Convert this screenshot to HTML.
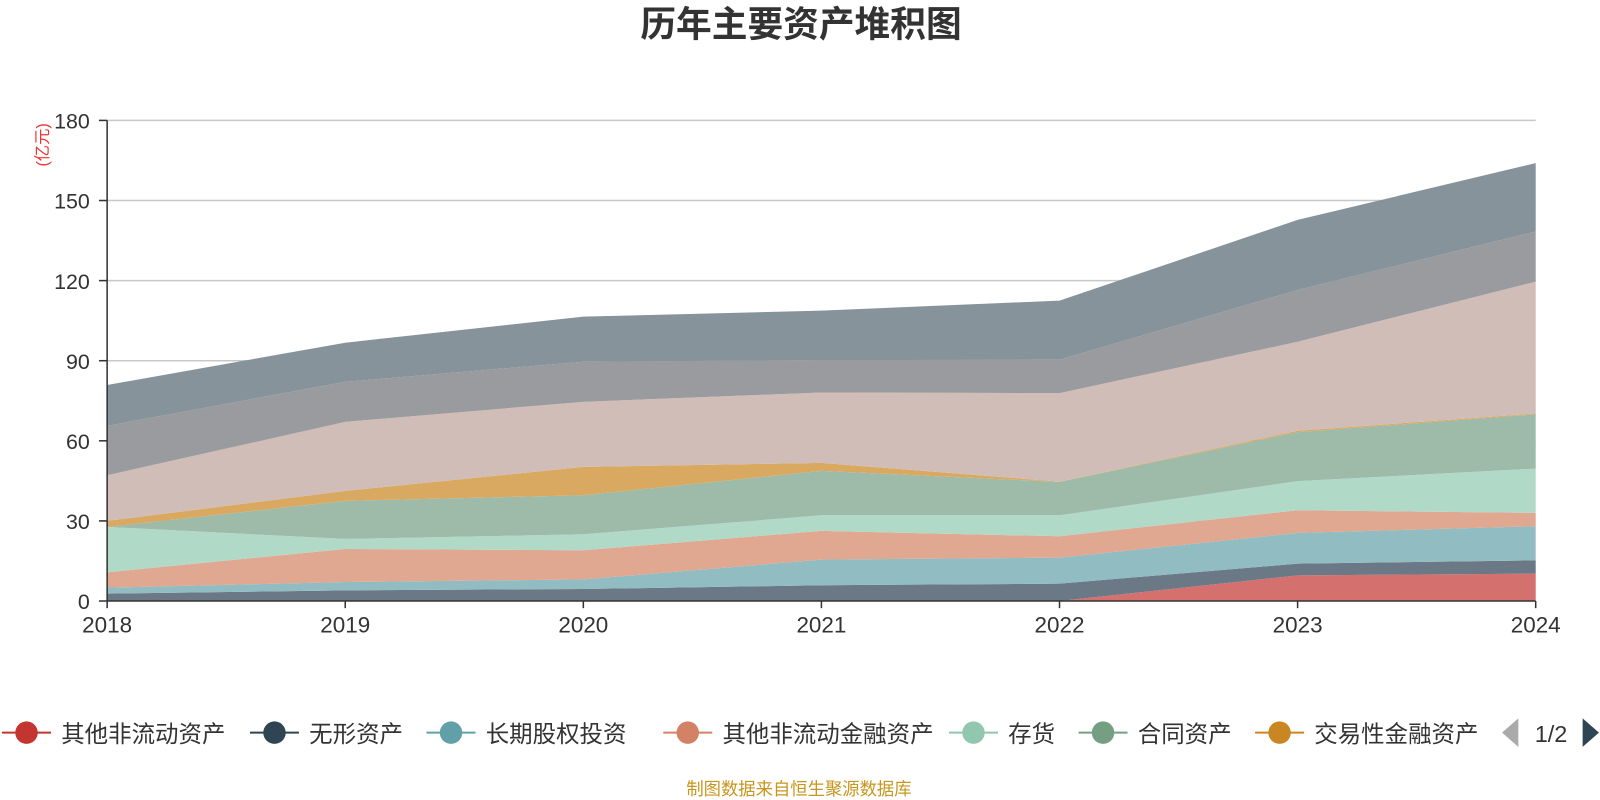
<!DOCTYPE html>
<html><head><meta charset="utf-8"><style>
body{margin:0;background:#fff;}
svg{display:block;font-family:"Liberation Sans","Noto Sans CJK SC",sans-serif;}
</style></head><body>
<svg width="1600" height="800">
<g transform="scale(1.0204)">
<text x="785" y="36" text-anchor="middle" font-size="35" font-weight="bold" fill="#333">历年主要资产堆积图</text>
<text transform="translate(47,142) rotate(-90)" text-anchor="middle" font-size="16" fill="#e33">(亿元)</text>
<g id="grid"></g><g id="areas"></g><g id="axes"></g><g id="legend"></g>
<text x="783" y="779" text-anchor="middle" font-size="17" fill="#c8961e">制图数据来自恒生聚源数据库</text>
</g>
</svg>
<script>
const years=['2018','2019','2020','2021','2022','2023','2024'];
const yTicks=[0,30,60,90,120,150,180];
const seriesNames=['其他非流动资产','无形资产','长期股权投资','其他非流动金融资产','存货','合同资产','交易性金融资产','应收账款','固定资产','货币资金'];
const sOther=[0,0,0,0,0,9.6,10.25];
const sIntangible=[2.75,4,4.5,5.9,6.5,4.4,5.0];
const sEquity=[2.25,3.1,3.6,9.6,9.75,11.5,12.75];
const sOtherFin=[5.75,12.4,10.9,10.75,8,8.5,5];
const sInventory=[17,3.75,6,5.85,7.85,10.9,16.6];
const sContract=[0,14.25,14.6,16.65,12.5,18.35,20.3];
const sTrading=[2.25,3.75,10.65,3,0.1,0.5,0.35];
const sReceivable=[17.1,25.85,24.35,26.35,33.15,33.35,49.35];
const sFixed=[18.5,15,15,12.15,12.5,19.4,18.8];
const sCash=[15.3,14.65,16.9,18.5,22.15,26.25,25.6];
const series=[sOther,sIntangible,sEquity,sOtherFin,sInventory,sContract,sTrading,sReceivable,sFixed,sCash];
const fills=['#d4706d','#6b7986','#91bcc2','#e0a791','#b1d9c7','#9dbba8','#d9a962','#d1bdb7','#9a9b9f','#86939a'];
const legendColors=['#c23531','#2f4554','#61a0a8','#d48265','#91c7ae','#749f83','#ca8622'];
const NS='http://www.w3.org/2000/svg';
const X0=105,X1=1505,Y0=589,Y1=118,YMAX=180;
const xs=i=>X0+(X1-X0)*i/(years.length-1);
const ys=v=>Y0-(Y0-Y1)*v/YMAX;
function mk(t,a,p){const e=document.createElementNS(NS,t);for(const k in a)e.setAttribute(k,a[k]);p.appendChild(e);return e;}
const grid=document.getElementById('grid'),axes=document.getElementById('axes'),areas=document.getElementById('areas'),legend=document.getElementById('legend');
yTicks.forEach(t=>{
 if(t>0){const g=mk('line',{x1:X0,x2:X1,y1:ys(t),y2:ys(t),stroke:'#c8c8c8','stroke-width':1.5},grid);
 
 }
 const tk=mk('line',{x1:X0-8,x2:X0,y1:ys(t),y2:ys(t),stroke:'#333','stroke-width':1.5},axes);
 
 
 const l=mk('text',{x:X0-17,y:ys(t)+8,'text-anchor':'end','font-size':21,fill:'#333'},axes);l.textContent=t;
 
 
});
let base=years.map(()=>0);
series.forEach((s,k)=>{
 const top=base.map((b,i)=>b+s[i]);
 let d='M'+top.map((v,i)=>xs(i)+','+ys(v)).join('L');
 for(let i=years.length-1;i>=0;i--)d+='L'+xs(i)+','+ys(base[i]);
 const p=mk('path',{d:d+'Z',fill:fills[k]},areas);
 
 
 base=top;
});
const ya=mk('line',{x1:X0,x2:X0,y1:Y1,y2:Y0,stroke:'#333','stroke-width':1.5},axes);


const xa=mk('line',{x1:X0,x2:X1,y1:Y0,y2:Y0,stroke:'#333','stroke-width':1.5},axes);


years.forEach((y,i)=>{
 const tk=mk('line',{x1:xs(i),x2:xs(i),y1:Y0,y2:Y0+7,stroke:'#333','stroke-width':1.5},axes);
 
 
 const l=mk('text',{x:xs(i),y:Y0+31,'text-anchor':'middle','font-size':22,fill:'#333'},axes);l.textContent=y;
 
 
});
const lx=[2,245,418,650,930,1057,1230];
lx.forEach((x,k)=>{
 const g=mk('g',{},legend);
 
 
 mk('line',{x1:x,x2:x+48,y1:718,y2:718,stroke:legendColors[k],'stroke-width':2},g);
 mk('circle',{cx:x+24,cy:718,r:11,fill:legendColors[k]},g);
 const t=mk('text',{x:x+58,y:727,'font-size':23,fill:'#333'},g);t.textContent=seriesNames[k];
});
const pl=mk('path',{d:'M1488,704L1488,732L1472,718Z',fill:'#aaa'},legend);


const pt=mk('text',{x:1520,y:727,'text-anchor':'middle','font-size':23,fill:'#333'},legend);pt.textContent='1/2';


const pn=mk('path',{d:'M1551,704L1551,732L1567,718Z',fill:'#2f4554'},legend);


</script>
</body></html>
